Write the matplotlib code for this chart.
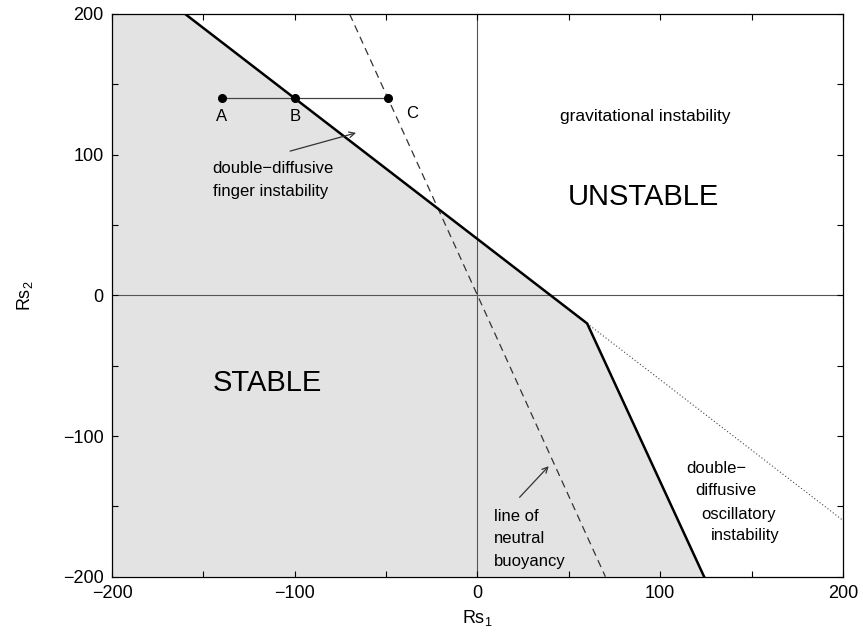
import numpy as np
import matplotlib.pyplot as plt
from matplotlib.ticker import MultipleLocator, FuncFormatter

plt.rcParams["font.family"] = ["Liberation Sans", "DejaVu Sans"]
plt.rcParams["mathtext.fontset"] = "custom"
plt.rcParams["mathtext.rm"] = "Liberation Sans"
plt.rcParams["mathtext.it"] = "Liberation Sans"

# 稳定性边界（粗线）
boundary_x = [-160, 60, 124]
boundary_y = [200, -20, -200]

# 边界延长线（点线）
dotted_x = [60, 200]
dotted_y = [-20, -160]

# 中性浮力线（虚线）
neutral_x = [-70, 70]
neutral_y = [200, -200]

# 点 A, B, C
pt_names = ["A", "B", "C"]
pt_x = [-140, -100, -49]
pt_y = [140, 140, 140]

fig = plt.figure(figsize=(8.63, 6.35), dpi=100)
ax = fig.add_axes([0.1298, 0.0918, 0.8470, 0.8862])

# 稳定区灰色填充
poly_x = [-200] + boundary_x + [-200]
poly_y = [200] + boundary_y + [-200]
ax.fill(poly_x, poly_y, color="#e3e3e3", lw=0, zorder=0)

ax.axhline(0, color="#555555", lw=0.8, zorder=1)
ax.axvline(0, color="#555555", lw=0.8, zorder=1)

ax.plot(boundary_x, boundary_y, color="black", lw=1.8, zorder=3)
ax.plot(dotted_x, dotted_y, color="#444444", lw=0.8, ls=(0, (1, 2)), zorder=2)
ax.plot(neutral_x, neutral_y, color="#333333", lw=0.9, ls=(0, (6, 4)), zorder=2)

ax.plot([pt_x[0], pt_x[-1]], [pt_y[0], pt_y[-1]], color="#444444", lw=0.9, zorder=2)
ax.plot(pt_x, pt_y, "o", color="black", ms=5.5, zorder=4)
for name, x, y in zip(pt_names, pt_x, pt_y):
    dx = 13 if name == "C" else 0
    dy = 11 if name == "C" else 13
    ax.text(x + dx, y - dy, name, ha="center", va="center", fontsize=12)

# 文字标注
ax.text(92, 127, "gravitational instability", ha="center", va="center", fontsize=12.5)
ax.text(91, 70, "UNSTABLE", ha="center", va="center", fontsize=21)
ax.text(-115, -62, "STABLE", ha="center", va="center", fontsize=21)

ax.text(-145, 90, "double\u2212diffusive", ha="left", va="center", fontsize=12)
ax.text(-145, 74, "finger instability", ha="left", va="center", fontsize=12)
ax.annotate("", xy=(-65, 116), xytext=(-104, 102),
            arrowprops=dict(arrowstyle="->", color="#333333", lw=0.9))

for s, y in zip(["line of", "neutral", "buoyancy"], [-157, -173, -189]):
    ax.text(9, y, s, ha="left", va="center", fontsize=12)
ax.annotate("", xy=(40, -120), xytext=(22, -145),
            arrowprops=dict(arrowstyle="->", color="#333333", lw=0.9))

osc_lines = ["double\u2212", "diffusive", "oscillatory", "instability"]
osc_x = [114, 119, 122.5, 127.5]
osc_y = [-123, -139, -156, -171]
for s, x, y in zip(osc_lines, osc_x, osc_y):
    ax.text(x, y, s, ha="left", va="center", fontsize=12)

ax.set_xlim(-200, 200)
ax.set_ylim(-200, 200)
for axis in (ax.xaxis, ax.yaxis):
    axis.set_major_locator(MultipleLocator(50))
    axis.set_major_formatter(FuncFormatter(
        lambda v, p: "" if v % 100 else f"{int(v)}".replace("-", "\u2212")))
ax.tick_params(direction="in", length=4, width=0.8, top=True, right=True,
               labelsize=13, pad=6)
for sp in ax.spines.values():
    sp.set_linewidth(0.9)

ax.set_xlabel("Rs$_1$", fontsize=13, labelpad=4)
ax.set_ylabel("Rs$_2$", fontsize=13, labelpad=20)

plt.savefig("out.png", dpi=100)
